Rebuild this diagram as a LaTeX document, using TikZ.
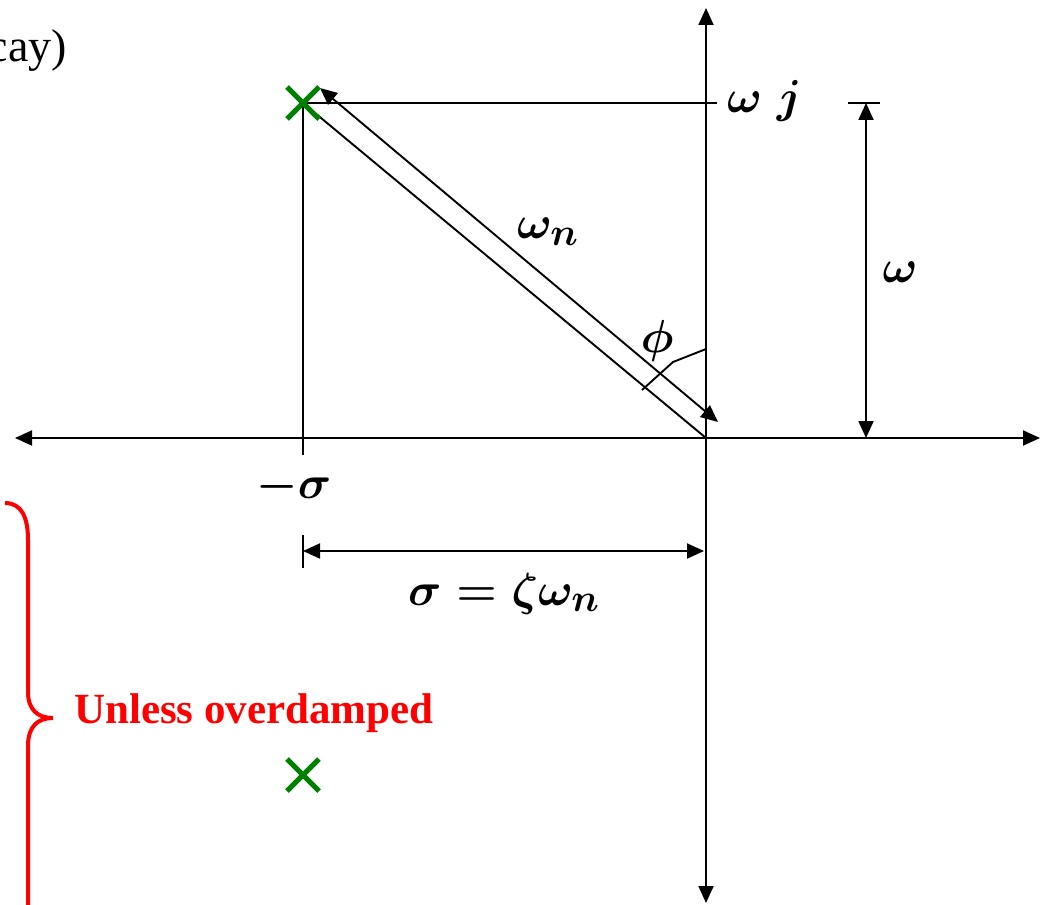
\documentclass[tikz,border=0pt]{standalone}
\usepackage[no-math]{fontspec}
\setmainfont{Liberation Serif}
\usetikzlibrary{arrows.meta,shapes.misc}
\definecolor{polegreen}{RGB}{0,128,0}
\definecolor{bracered}{RGB}{255,0,0}
\newcommand{\bigmathlabel}[1]{\scalebox{1.86}{\fontsize{24.88}{30}\selectfont\boldmath$#1$}}
\tikzset{
  axis/.style={line width=1.9pt, {Triangle[length=17pt,width=15pt]}-{Triangle[length=17pt,width=15pt]}},
  plain/.style={line width=1.9pt},
  dim/.style={line width=1.9pt, {Triangle[length=17pt,width=15pt]}-{Triangle[length=17pt,width=15pt]}},
  pole/.style={cross out, draw=polegreen, line width=5pt, minimum size=32pt, inner sep=0pt, outer sep=0pt},
  mathlbl/.style={inner sep=0pt},
  redlbl/.style={text=bracered, font=\fontsize{43}{50}\selectfont\bfseries, inner sep=0pt},
  toplbl/.style={font=\fontsize{46}{52}\selectfont, inner sep=0pt},
}
\begin{document}
\begin{tikzpicture}[x=1pt,y=-1pt]
\useasboundingbox (0,0) rectangle (1040,904);
% coordinates
\coordinate (O) at (706,438);
\coordinate (P) at (303,103);
\coordinate (xl) at (15,438);
\coordinate (xr) at (1040,438);
\coordinate (yt) at (706,8);
\coordinate (yb) at (706,903);
\coordinate (hr) at (717,103);
\coordinate (vb) at (303,455);
\coordinate (da) at (320,88);
\coordinate (db) at (718,422);
\coordinate (a1) at (642,390);
\coordinate (a2) at (673,362);
\coordinate (a3) at (706,349);
\coordinate (st1) at (303,535);
\coordinate (st2) at (303,568);
\coordinate (sl) at (303,551);
\coordinate (sr) at (704,551);
\coordinate (wt1) at (848,103);
\coordinate (wt2) at (880,103);
\coordinate (wt) at (866,103);
\coordinate (wb) at (866,438);
% axes
\draw[axis] (xl) -- (xr);
\draw[axis] (yb) -- (yt);
% geometry
\draw[plain] (P) -- (hr);
\draw[plain] (P) -- (vb);
\draw[plain] (P) -- (O);
\draw[dim] (da) -- (db);
\draw[plain] (a1) -- (a2) -- (a3);
\draw[plain] (st1) -- (st2);
\draw[dim] (sl) -- (sr);
\draw[plain] (wt1) -- (wt2);
\draw[dim] (wb) -- (wt);
% brace
\draw[bracered, line width=4pt] (5,503) .. controls (22,503) and (28,518) .. (28,540)
  -- (28,692) .. controls (28,710) and (38,718) .. (53,718)
  .. controls (38,718) and (28,726) .. (28,746) -- (28,910);
% labels
\node[toplbl, anchor=base east] (cay) at (67,62) {cay)};
\node[mathlbl, anchor=base west] (wj) at (727,113) {\bigmathlabel{\omega\;j}};
\node[mathlbl] (wn) at (548,232) {\bigmathlabel{\omega_n}};
\node[mathlbl] (phi) at (657,341) {\bigmathlabel{\phi}};
\node[mathlbl] (w) at (900,272) {\bigmathlabel{\omega}};
\node[mathlbl, anchor=base] (ms) at (294,498) {\bigmathlabel{-\sigma}};
\node[mathlbl, anchor=base] (sz) at (504,605) {\bigmathlabel{\sigma=\zeta\omega_n}};
\node[redlbl, anchor=base west] (ud) at (74,723) {Unless overdamped};
% poles
\node[pole] (p1) at (303,103) {};
\node[pole] (p2) at (303,775) {};
\end{tikzpicture}
\end{document}
